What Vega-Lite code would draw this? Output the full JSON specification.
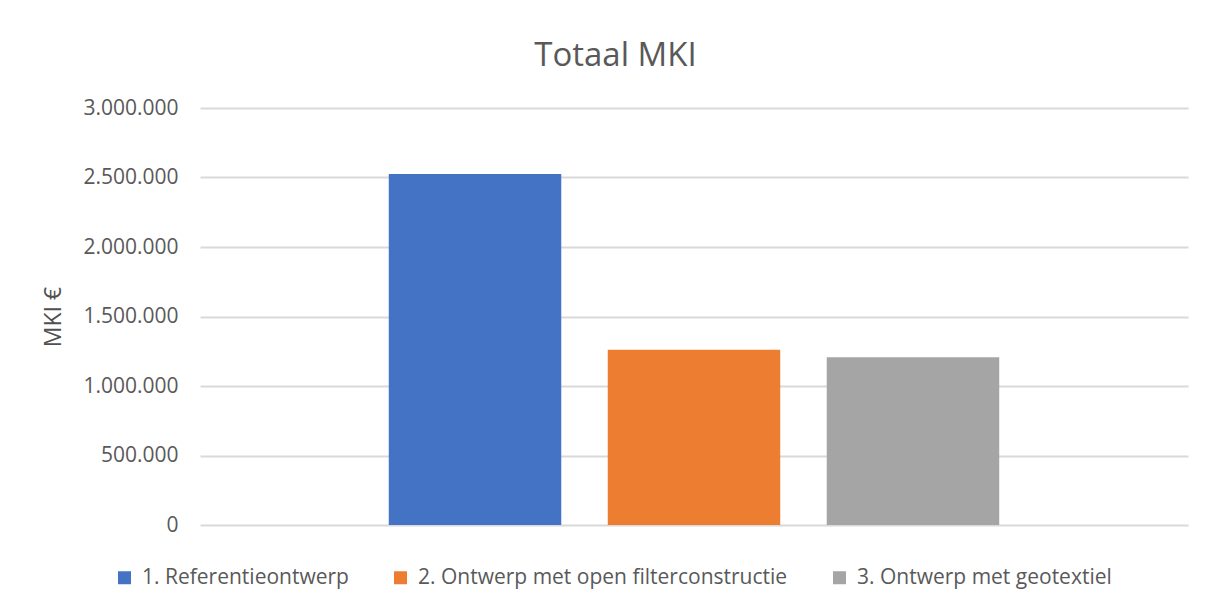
{
  "$schema": "https://vega.github.io/schema/vega-lite/v6.json",
  "width": 988,
  "height": 417,
  "autosize": {"type": "none"},
  "padding": {"left": 200, "top": 108, "right": 26, "bottom": 88},
  "background": "white",
  "title": {
    "text": "Totaal MKI",
    "font": "Open Sans",
    "fontSize": 33,
    "fontWeight": "normal",
    "color": "#595959",
    "anchor": "middle",
    "frame": "bounds",
    "offset": 24
  },
  "data": {
    "values": [
      {"series": "1. Referentieontwerp", "mki": 2525000},
      {"series": "2. Ontwerp met open filterconstructie", "mki": 1260000},
      {"series": "3. Ontwerp met geotextiel", "mki": 1207000}
    ]
  },
  "mark": {"type": "bar"},
  "encoding": {
    "x": {
      "field": "series",
      "type": "nominal",
      "axis": null,
      "scale": {"paddingInner": 0.2123, "paddingOuter": 0.862}
    },
    "y": {
      "field": "mki",
      "type": "quantitative",
      "scale": {"domain": [0, 3000000], "nice": false},
      "axis": {
        "title": "MKI €",
        "values": [0, 500000, 1000000, 1500000, 2000000, 2500000, 3000000],
        "labelExpr": "replace(format(datum.value, ','), /,/g, '.')",
        "labelFont": "Open Sans",
        "labelFontSize": 21,
        "labelColor": "#595959",
        "labelPadding": 22,
        "ticks": false,
        "domain": false,
        "gridColor": "#D9D9D9",
        "gridWidth": 2,
        "titleFont": "Open Sans",
        "titleFontSize": 23,
        "titleFontWeight": "normal",
        "titleColor": "#505050",
        "titlePadding": 17
      }
    },
    "color": {
      "field": "series",
      "type": "nominal",
      "scale": {
        "domain": ["1. Referentieontwerp", "2. Ontwerp met open filterconstructie", "3. Ontwerp met geotextiel"],
        "range": ["#4472C4", "#ED7D31", "#A5A5A5"]
      },
      "legend": {
        "orient": "none",
        "legendX": -86,
        "legendY": 459,
        "direction": "horizontal",
        "title": null,
        "symbolType": "square",
        "symbolSize": 169,
        "symbolStrokeWidth": 0,
        "labelFont": "Open Sans",
        "labelFontSize": 21,
        "labelColor": "#595959",
        "labelOffset": 7,
        "labelLimit": 600,
        "columnPadding": 41
      }
    }
  },
  "config": {
    "view": {"stroke": null}
  }
}
